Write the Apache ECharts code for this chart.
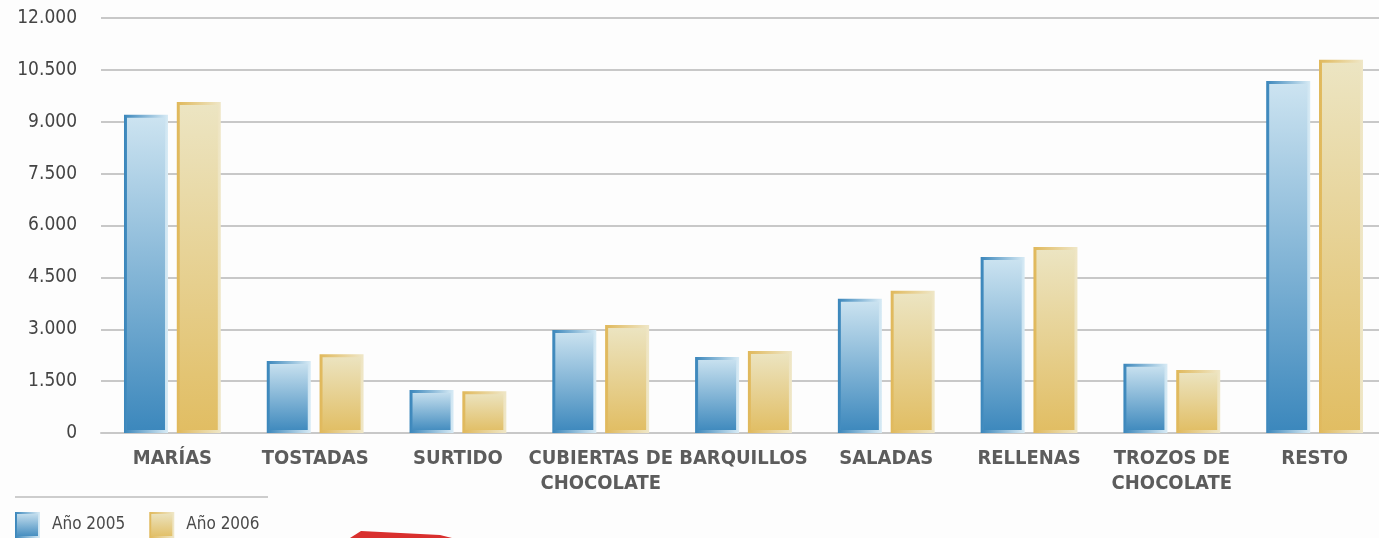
<!DOCTYPE html>
<html>
<head>
<meta charset="utf-8">
<script src="https://cdn.jsdelivr.net/npm/echarts@6/dist/echarts.min.js"></script>
<style>
html,body{margin:0;padding:0;background:#fdfdfd;}
#c{width:1379px;height:538px;}
</style>
</head>
<body>
<div id="c"></div>
<script>
const categories = ['MARÍAS','TOSTADAS','SURTIDO','CUBIERTAS DE\nCHOCOLATE','BARQUILLOS','SALADAS','RELLENAS','TROZOS DE\nCHOCOLATE','RESTO'];
const seriesNames = ['Año 2005','Año 2006'];
const values2005 = [9200, 2080, 1240, 2980, 2200, 3880, 5090, 2000, 10180];
const values2006 = [9570, 2280, 1210, 3120, 2370, 4110, 5380, 1820, 10790];
const yTicks = {min: 0, max: 12000, interval: 1500};

const chart = echarts.init(document.getElementById('c'), null, {renderer: 'canvas'});
const lg = (a, b, dir) => new echarts.graphic.LinearGradient(0, 0, dir === 'h' ? 1 : 0, dir === 'h' ? 0 : 1, [
  {offset: 0, color: a}, {offset: 1, color: b}
]);
const fmt = v => String(v).replace(/\B(?=(\d{3})+(?!\d))/g, '.');
const FONT = 'DejaVu Sans Condensed';

chart.setOption({
  backgroundColor: '#fdfdfd',
  animation: false,
  grid: {left: 101, top: 18, width: 1285, bottom: 105, containLabel: false, outerBoundsMode: 'none'},
  legend: {
    left: 15, top: 512, padding: 0, itemWidth: 23, itemHeight: 24, itemGap: 24,
    icon: 'rect',
    textStyle: {fontFamily: FONT, fontSize: 17, color: '#4a4a4a', padding: [0, 0, 0, 8]},
    data: seriesNames
  },
  xAxis: {
    type: 'category',
    data: categories,
    axisTick: {show: false},
    axisLine: {lineStyle: {color: '#c8c8c8', width: 2}},
    axisLabel: {interval: 0, margin: 13, fontFamily: FONT, fontWeight: 'bold', fontSize: 20, color: '#5c5c5c', lineHeight: 25}
  },
  yAxis: {
    type: 'value',
    min: yTicks.min, max: yTicks.max, interval: yTicks.interval,
    axisLine: {show: false}, axisTick: {show: false},
    axisLabel: {margin: 24, fontFamily: FONT, fontSize: 19, color: '#444', formatter: fmt},
    splitLine: {lineStyle: {color: '#c8c8c8', width: 2}}
  },
  series: [
    {
      name: seriesNames[0], type: 'bar', data: values2005,
      barWidth: 44, barGap: '20%',
      itemStyle: {
        color: lg('#cde4f1', '#3b87bc', 'v'),
        borderColor: lg('#3a86bb', '#d8ebf5', 'h'),
        borderWidth: 3
      }
    },
    {
      name: seriesNames[1], type: 'bar', data: values2006,
      barWidth: 44,
      itemStyle: {
        color: lg('#ece5c3', '#e1bd62', 'v'),
        borderColor: lg('#e0b85a', '#efe7c8', 'h'),
        borderWidth: 3
      }
    }
  ],
  graphic: [
    {type: 'line', shape: {x1: 15, y1: 497, x2: 268, y2: 497}, style: {stroke: '#bdbdbd', lineWidth: 1.5}},
    {type: 'polygon', shape: {points: [[350, 538], [361, 531], [440, 535], [452, 538]]}, style: {fill: '#d9302e'}}
  ]
});
</script>
</body>
</html>
